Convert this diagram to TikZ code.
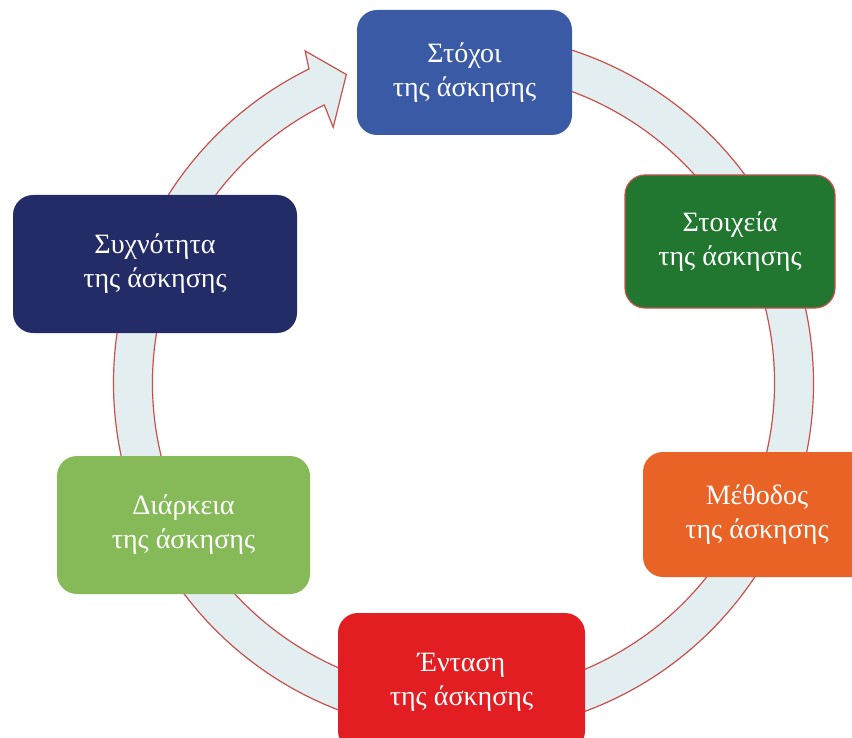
\documentclass[tikz,border=0pt]{standalone}
\usepackage{fontspec}
\setmainfont{Liberation Serif}
\definecolor{cblue}{HTML}{3B5AA6}
\definecolor{cdgreen}{HTML}{21772F}
\definecolor{corange}{HTML}{E96226}
\definecolor{cred}{HTML}{E21E23}
\definecolor{clgreen}{HTML}{86BA59}
\definecolor{cnavy}{HTML}{232C67}
\definecolor{ringfill}{HTML}{E2EEF0}
\definecolor{ringline}{HTML}{C8504D}
\tikzset{
  stagebox/.style={rounded corners=10pt, text=white, align=center, inner sep=0pt,
    font=\fontsize{14}{17}\selectfont},
  ring/.style={fill=ringfill, draw=ringline, line width=0.6pt, line join=miter}
}
\begin{document}
\begin{tikzpicture}[x=0.5pt,y=-0.5pt]
\useasboundingbox (0,0) rectangle (852,738);
\begin{scope}[shift={(463.5,383)}, yscale=-1]
\draw[ring] (95:350) arc[start angle=95,end angle=-243.8,radius=350]
  -- (-244.5:368) -- (-249.2:330) -- (-243:287) -- (-243.4:311)
  arc[start angle=-243.4,end angle=95,radius=311] -- cycle;
\end{scope}
\node[stagebox, fill=cblue, minimum width=107.5pt, minimum height=62.5pt] (goals) at (464.5,72.5) {Στόχοι\\της άσκησης};
\node[stagebox, fill=cdgreen, draw=ringline, line width=0.6pt, minimum width=105pt, minimum height=66.5pt] (elements) at (730,241.5) {Στοιχεία\\της άσκησης};
\node[stagebox, fill=corange, minimum width=114pt, minimum height=62.5pt] (method) at (757,514.5) {Μέθοδος\\της άσκησης};
\node[stagebox, fill=cred, minimum width=123.5pt, minimum height=69pt] (intensity) at (461.5,682) {Ένταση\\της άσκησης};
\node[stagebox, fill=clgreen, minimum width=126.5pt, minimum height=69pt] (duration) at (183.5,525) {Διάρκεια\\της άσκησης};
\node[stagebox, fill=cnavy, minimum width=142pt, minimum height=69pt] (frequency) at (155,264) {Συχνότητα\\της άσκησης};
\end{tikzpicture}
\end{document}
